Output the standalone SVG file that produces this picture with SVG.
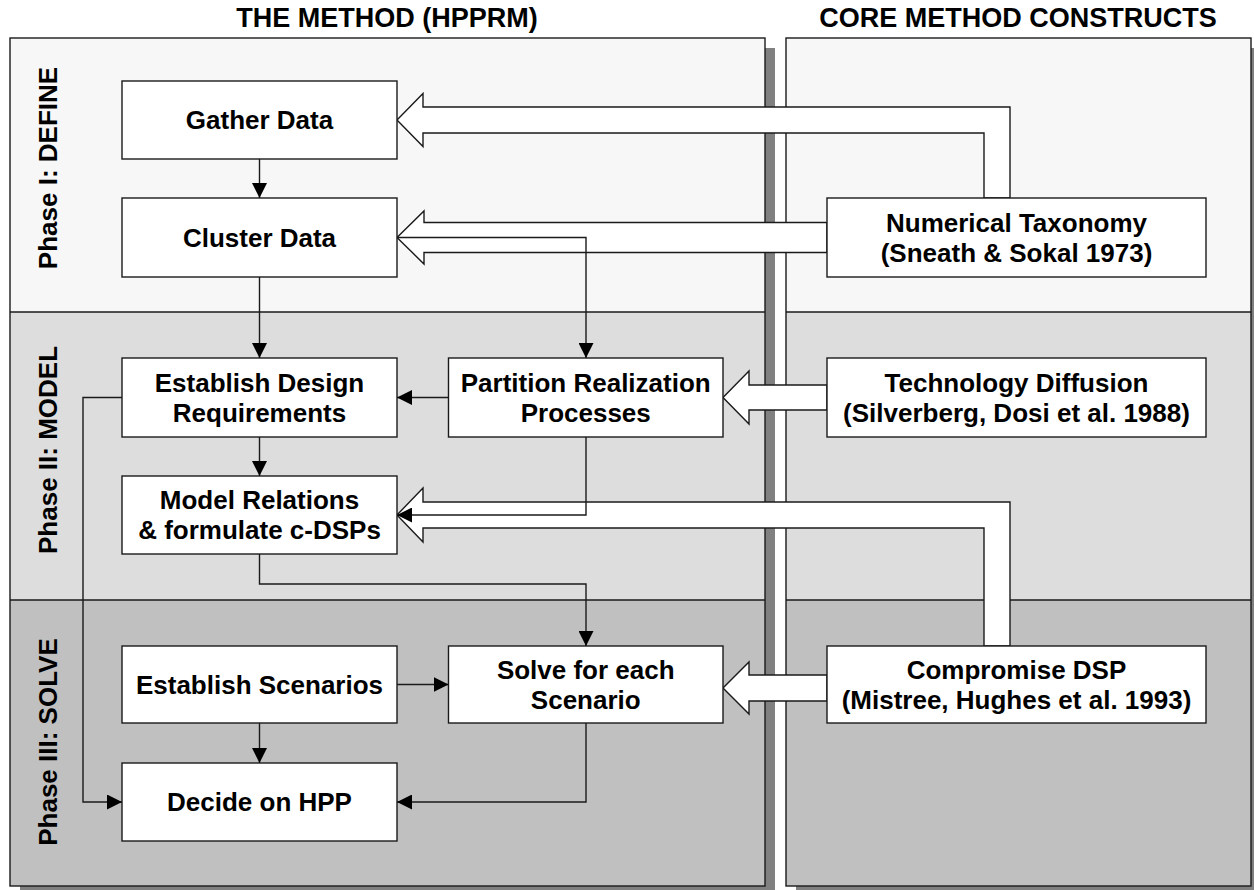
<svg xmlns="http://www.w3.org/2000/svg" width="1254" height="890" viewBox="0 0 1254 890">
<defs>
<style>
text{font-family:"Liberation Sans",Arial,Helvetica,sans-serif;font-weight:bold;fill:#000;text-anchor:middle}
.t{font-size:26px}
.h{font-size:27px}
.b1{fill:#f7f7f7}
.b2{fill:#dddddd}
.b3{fill:#c0c0c0}
.sh{fill:#808080}
.frame{fill:none;stroke:#1a1a1a;stroke-width:1.4}
.sep{stroke:#1a1a1a;stroke-width:1.4}
.node rect{fill:#fff;stroke:#1a1a1a;stroke-width:1.4}
.fat{fill:#fff;stroke:#1a1a1a;stroke-width:1.4;stroke-linejoin:miter}
.con{fill:none;stroke:#1a1a1a;stroke-width:1.4;marker-end:url(#ah)}
</style>
<marker id="ah" markerUnits="userSpaceOnUse" markerWidth="15" markerHeight="15" refX="15" refY="7.5" orient="auto">
<path d="M0,0 L15,7.5 L0,15 z" fill="#000"/>
</marker>
</defs>
<rect x="0" y="0" width="1254" height="890" fill="#fff"/>
<!-- headers -->
<text class="h" x="387" y="27">THE METHOD (HPPRM)</text>
<text class="h" x="1018" y="27">CORE METHOD CONSTRUCTS</text>
<!-- left panel -->
<g id="panel-left">
<rect class="sh" x="20" y="48" width="755" height="848"/>
<rect class="b1" x="10" y="38" width="755" height="274"/>
<rect class="b2" x="10" y="312" width="755" height="288"/>
<rect class="b3" x="10" y="600" width="755" height="286"/>
<line class="sep" x1="10" y1="312" x2="765" y2="312"/>
<line class="sep" x1="10" y1="600" x2="765" y2="600"/>
<rect class="frame" x="10" y="38" width="755" height="848"/>
<text class="t" transform="translate(57,168) rotate(-90)">Phase I: DEFINE</text>
<text class="t" transform="translate(57,450) rotate(-90)">Phase II: MODEL</text>
<text class="t" transform="translate(57,742) rotate(-90)">Phase III: SOLVE</text>
</g>
<!-- right panel -->
<g id="panel-right">
<rect class="sh" x="796" y="48" width="465" height="848"/>
<rect class="b1" x="786" y="38" width="465" height="274"/>
<rect class="b2" x="786" y="312" width="465" height="288"/>
<rect class="b3" x="786" y="600" width="465" height="286"/>
<line class="sep" x1="786" y1="312" x2="1251" y2="312"/>
<line class="sep" x1="786" y1="600" x2="1251" y2="600"/>
<rect class="frame" x="786" y="38" width="465" height="848"/>
</g>
<!-- fat arrows -->
<g id="fat-arrows">
<polygon class="fat" points="397,120 423,93.5 423,107 1010,107 1010,198 984,198 984,133 423,133 423,146.5"/>
<polygon class="fat" points="397,237.5 424,211 424,222.5 827,222.5 827,252.5 424,252.5 424,264"/>
<polygon class="fat" points="723,397.5 749,371 749,385 827,385 827,410 749,410 749,424"/>
<polygon class="fat" points="397,515 423,488 423,502 1010,502 1010,646 984,646 984,528 423,528 423,542"/>
<polygon class="fat" points="723,688 749,662 749,675 827,675 827,701 749,701 749,714"/>
</g>
<!-- nodes -->
<g id="n-gather" class="node"><rect x="122" y="81" width="275" height="78"/><text class="t" x="259.5" y="129.3">Gather Data</text></g>
<g id="n-cluster" class="node"><rect x="122" y="198" width="275" height="79"/><text class="t" x="259.5" y="246.8">Cluster Data</text></g>
<g id="n-numtax" class="node"><rect x="827" y="198" width="379" height="79"/><text class="t" x="1016.5" y="231.8">Numerical Taxonomy</text><text class="t" x="1016.5" y="261.8">(Sneath &amp; Sokal 1973)</text></g>
<g id="n-edr" class="node"><rect x="122" y="358" width="275" height="79"/><text class="t" x="259.5" y="391.8">Establish Design</text><text class="t" x="259.5" y="421.8">Requirements</text></g>
<g id="n-prp" class="node"><rect x="448.5" y="358" width="274.5" height="79"/><text class="t" x="585.75" y="391.8">Partition Realization</text><text class="t" x="585.75" y="421.8">Processes</text></g>
<g id="n-techdiff" class="node"><rect x="827" y="358" width="379" height="79"/><text class="t" x="1016.5" y="391.8">Technology Diffusion</text><text class="t" x="1016.5" y="421.8">(Silverberg, Dosi et al. 1988)</text></g>
<g id="n-model" class="node"><rect x="122" y="476" width="275" height="78"/><text class="t" x="259.5" y="509.3">Model Relations</text><text class="t" x="259.5" y="539.3">&amp; formulate c-DSPs</text></g>
<g id="n-scen" class="node"><rect x="122" y="646" width="275" height="77"/><text class="t" x="259.5" y="693.8">Establish Scenarios</text></g>
<g id="n-solve" class="node"><rect x="448.5" y="646" width="274.5" height="77"/><text class="t" x="585.75" y="678.8">Solve for each</text><text class="t" x="585.75" y="708.8">Scenario</text></g>
<g id="n-cdsp" class="node"><rect x="827" y="646" width="379" height="77"/><text class="t" x="1016.5" y="678.8">Compromise DSP</text><text class="t" x="1016.5" y="708.8">(Mistree, Hughes et al. 1993)</text></g>
<g id="n-decide" class="node"><rect x="122" y="763" width="275" height="78"/><text class="t" x="259.5" y="811.3">Decide on HPP</text></g>
<!-- connectors -->
<g id="connectors">
<path class="con" d="M259.5,159 V198"/>
<path class="con" d="M259.5,277 V358"/>
<path class="con" d="M259.5,437 V476"/>
<path class="con" d="M448.5,397.5 H397"/>
<path class="con" d="M397,237.5 H586 V358"/>
<path class="con" d="M586,437 V515 H397"/>
<path class="con" d="M259.5,554 V584 H586 V646"/>
<path class="con" d="M122,397.5 H83 V802 H122"/>
<path class="con" d="M397,684.5 H448.5"/>
<path class="con" d="M259.5,723 V763"/>
<path class="con" d="M586,723 V802 H397"/>
</g>
</svg>
